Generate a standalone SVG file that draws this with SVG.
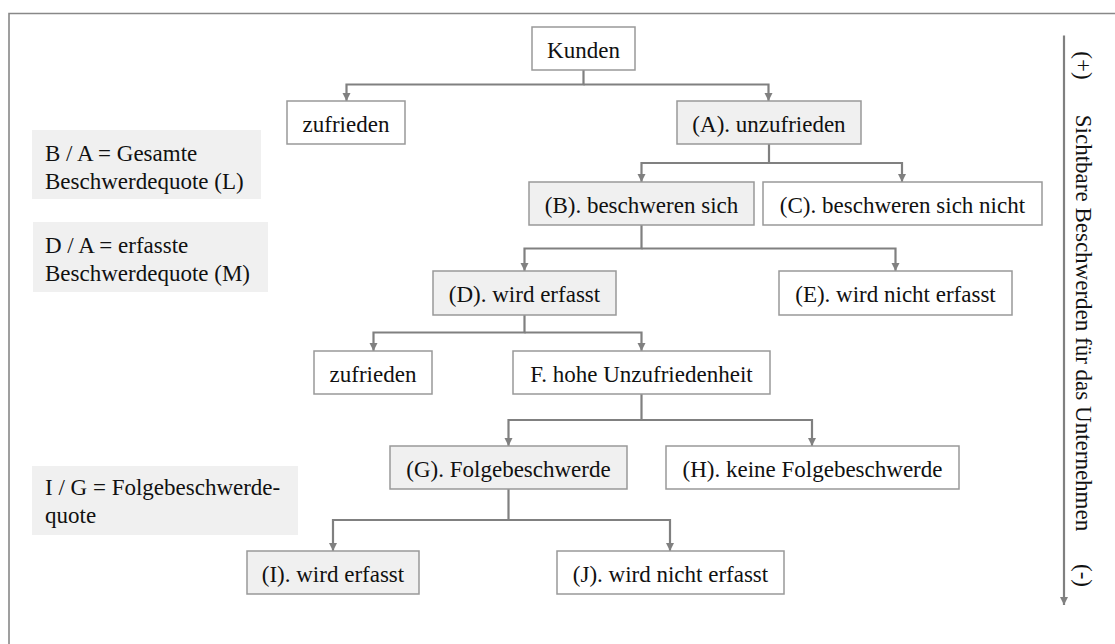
<svg xmlns="http://www.w3.org/2000/svg" width="1115" height="644" viewBox="0 0 1115 644">
<style>
text{font-family:'Liberation Serif','Times New Roman',serif;font-size:23px;fill:#111}
.c{text-anchor:middle}
.b{fill:#fff;stroke:#999;stroke-width:1.5}
.g{fill:#f0f0f0;stroke:#999;stroke-width:1.5}
.n{fill:#f0f0f0;stroke:none}
.k{fill:none;stroke:#808080;stroke-width:2.2}
</style>
<defs>
<marker id="ad" markerUnits="userSpaceOnUse" markerWidth="10" markerHeight="10" viewBox="0 0 10 10" refX="5" refY="9" orient="0">
<path d="M1 1 L9 1 L5 9 Z" fill="#808080"/>
</marker>
</defs>
<path d="M9 644 V13.5 H1115" fill="none" stroke="#888" stroke-width="1.6"/>
<g id="connectors">
<path class="k" d="M583.5 70 V84.5 H346.5 V101" marker-end="url(#ad)"/>
<path class="k" d="M583.5 84.5 H768.5 V101" marker-end="url(#ad)"/>
<path class="k" d="M769 144 V163 H641.5 V182" marker-end="url(#ad)"/>
<path class="k" d="M769 163 H902 V182" marker-end="url(#ad)"/>
<path class="k" d="M641.5 225 V248.5 H524.5 V271" marker-end="url(#ad)"/>
<path class="k" d="M641.5 248.5 H895.5 V271" marker-end="url(#ad)"/>
<path class="k" d="M524.5 315 V332.5 H373.5 V351" marker-end="url(#ad)"/>
<path class="k" d="M524.5 332.5 H641.5 V351" marker-end="url(#ad)"/>
<path class="k" d="M641.5 394 V420 H508.5 V446" marker-end="url(#ad)"/>
<path class="k" d="M641.5 420 H812 V446" marker-end="url(#ad)"/>
<path class="k" d="M508.5 489 V520 H333 V551" marker-end="url(#ad)"/>
<path class="k" d="M508.5 520 H670 V551" marker-end="url(#ad)"/>
<path class="k" d="M1064 35.5 V605" marker-end="url(#ad)"/>
</g>
<g id="kunden"><rect class="b" x="532" y="27" width="103" height="43"/><text class="c" x="583.5" y="57.5">Kunden</text></g>
<g id="zufrieden1"><rect class="b" x="287" y="101" width="118" height="43"/><text class="c" x="346" y="131.5">zufrieden</text></g>
<g id="nodeA"><rect class="g" x="677" y="101" width="184" height="43"/><text class="c" x="769" y="131.5">(A). unzufrieden</text></g>
<g id="nodeB"><rect class="g" x="529" y="182" width="225" height="43"/><text class="c" x="641.5" y="212.5">(B). beschweren sich</text></g>
<g id="nodeC"><rect class="b" x="763" y="182" width="279" height="43"/><text class="c" x="902.5" y="212.5">(C). beschweren sich nicht</text></g>
<g id="nodeD"><rect class="g" x="433" y="271" width="183" height="44"/><text class="c" x="524.5" y="301.5">(D). wird erfasst</text></g>
<g id="nodeE"><rect class="b" x="779" y="271" width="233" height="44"/><text class="c" x="895.5" y="301.5">(E). wird nicht erfasst</text></g>
<g id="zufrieden2"><rect class="b" x="314" y="351" width="118" height="43"/><text class="c" x="373" y="381.5">zufrieden</text></g>
<g id="nodeF"><rect class="b" x="513" y="351" width="257" height="43"/><text class="c" x="641.5" y="381.5">F. hohe Unzufriedenheit</text></g>
<g id="nodeG"><rect class="g" x="390" y="446" width="237" height="43"/><text class="c" x="508.5" y="476.5">(G). Folgebeschwerde</text></g>
<g id="nodeH"><rect class="b" x="666" y="446" width="293" height="43"/><text class="c" x="812.5" y="476.5">(H). keine Folgebeschwerde</text></g>
<g id="nodeI"><rect class="g" x="247" y="551" width="172" height="43"/><text class="c" x="333" y="581.5">(I). wird erfasst</text></g>
<g id="nodeJ"><rect class="b" x="557" y="551" width="227" height="43"/><text class="c" x="670.5" y="581.5">(J). wird nicht erfasst</text></g>
<g id="noteL"><rect class="n" x="32" y="130" width="229" height="69"/><text x="45" y="160.5">B / A = Gesamte</text><text x="45" y="189">Beschwerdequote (L)</text></g>
<g id="noteM"><rect class="n" x="33" y="222" width="235" height="70"/><text x="45" y="252.5">D / A = erfasste</text><text x="45" y="281">Beschwerdequote (M)</text></g>
<g id="noteFolge"><rect class="n" x="32" y="466" width="266" height="69"/><text x="45" y="495">I / G = Folgebeschwerde-</text><text x="45" y="523">quote</text></g>
<g id="axis">
<text class="c" transform="translate(1076 65.5) rotate(90)">(+)</text>
<text class="c" transform="translate(1076 323) rotate(90)">Sichtbare Beschwerden für das Unternehmen</text>
<text class="c" transform="translate(1076 575.5) rotate(90)">(-)</text>
</g>
</svg>
